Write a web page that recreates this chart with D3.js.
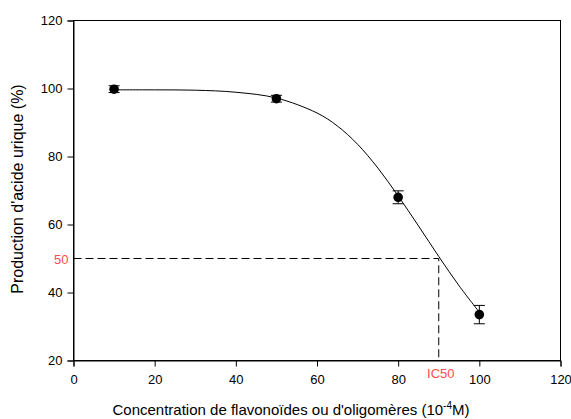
<!DOCTYPE html>
<html><head><meta charset="utf-8">
<script src="https://cdn.jsdelivr.net/npm/d3@7"></script>
<style>body{margin:0;background:#fff}svg{display:block}text{font-family:"Liberation Sans",Arial,sans-serif}</style>
</head><body>
<script>
const xTicks=[0,20,40,60,80,100,120];
const yTicks=[20,40,60,80,100,120];
const conc=[10,50,80,100];
const production=[99.8,97.0,68.0,33.5];
const errors=[1.0,1.0,1.9,2.7];
const curveX=[10,20,30,40,50,60,65,70,75,80,85,90,95,100];
const curveY=[99.6,99.6,99.5,98.9,97.2,92.8,89.0,83.6,76.6,68.4,59.6,50.6,42.0,34.2];
const ic50=90, half=50;

const W=571,H=419;
const m={l:73.5,r:10.5,t:20.5,b:58.5};
const svg=d3.select("body").append("svg").attr("width",W).attr("height",H);
const x=d3.scaleLinear().domain([0,120]).range([m.l,W-m.r]);
const y=d3.scaleLinear().domain([20,120]).range([H-m.b,m.t]);

svg.append("rect").attr("x",m.l).attr("y",m.t).attr("width",x(120)-m.l).attr("height",y(20)-m.t)
  .attr("fill","none").attr("stroke","#000").attr("stroke-width",1);

const xa=svg.append("g").attr("transform",`translate(0,${y(20)})`)
  .call(d3.axisBottom(x).tickValues(xTicks).tickSize(6).tickPadding(8));
const ya=svg.append("g").attr("transform",`translate(${m.l},0)`)
  .call(d3.axisLeft(y).tickValues(yTicks).tickSize(6).tickPadding(5));
[xa,ya].forEach(a=>{a.select(".domain").attr("stroke","#000");a.selectAll("line").attr("stroke","#000");
  a.selectAll("text").attr("font-size",13).attr("fill","#000").style("font-family","Liberation Sans, Arial, sans-serif");});

svg.append("path").attr("d",`M${x(0)},${y(half)}H${x(ic50)}V${y(20)}`)
  .attr("fill","none").attr("stroke","#000").attr("stroke-dasharray","8,4");

svg.append("path").datum(curveX.map((d,i)=>[d,curveY[i]]))
  .attr("d",d3.line().x(d=>x(d[0])).y(d=>y(d[1])).curve(d3.curveCatmullRom))
  .attr("fill","none").attr("stroke","#000").attr("stroke-width",1);

const g=svg.append("g");
conc.forEach((c,i)=>{
  const v=production[i],e=errors[i];
  g.append("line").attr("x1",x(c)).attr("x2",x(c)).attr("y1",y(v-e)).attr("y2",y(v+e)).attr("stroke","#000");
  [v-e,v+e].forEach(t=>g.append("line").attr("x1",x(c)-5.5).attr("x2",x(c)+5.5).attr("y1",y(t)).attr("y2",y(t)).attr("stroke","#000"));
  g.append("circle").attr("cx",x(c)).attr("cy",y(v)).attr("r",4.8).attr("fill","#000");
});

svg.append("text").attr("x",m.l-5).attr("y",y(half)+5).attr("text-anchor","end").attr("font-size",13).attr("fill","#ff4d4d").text("50");
svg.append("text").attr("x",x(ic50)+2).attr("y",y(20)+17).attr("text-anchor","middle").attr("font-size",13).attr("fill","#ff4d4d").text("IC50");

const xt=svg.append("text").attr("x",291).attr("y",415).attr("text-anchor","middle").attr("font-size",15).attr("fill","#000");
xt.append("tspan").text("Concentration de flavonoïdes ou d'oligomères (10");
xt.append("tspan").attr("font-size",10).attr("dy",-6).text("-4");
xt.append("tspan").attr("dy",6).text("M)");
svg.append("text").attr("transform",`translate(23,${189}) rotate(-90)`).attr("text-anchor","middle").attr("font-size",16).attr("fill","#000")
  .text("Production d'acide urique (%)");
</script>
</body></html>
